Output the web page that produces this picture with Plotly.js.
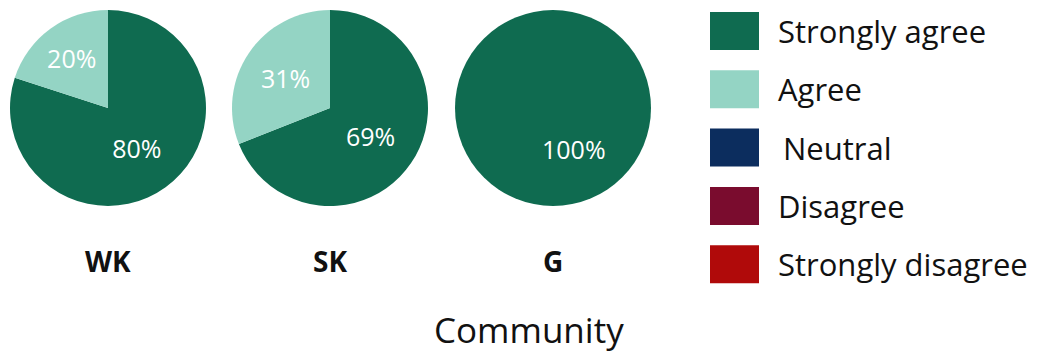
<!DOCTYPE html>
<html><head><meta charset="utf-8">
<script src="https://cdn.plot.ly/plotly-3.0.1.min.js"></script>
<style>html,body{margin:0;padding:0;background:#fff}#chart{width:1055px;height:356px}</style>
</head><body><div id="chart"></div>
<script>
const categories = ["Strongly agree","Agree","Neutral","Disagree","Strongly disagree"];
const colors = ["#0f6b50","#94d4c4","#0c2d5e","#7a0c2e","#b00a0a"];
const communities = ["WK","SK","G"];
const values = {
  WK: [80, 20, 0, 0, 0],
  SK: [69, 31, 0, 0, 0],
  G:  [100, 0, 0, 0, 0]
};
const axisTitle = "Community";

const W = 1055, H = 356;
const pieBoxes = [[10,206],[232,428],[455,651]];
const pieTop = 10, pieBottom = 206;
const FONT = "'Open Sans', 'DejaVu Sans', sans-serif";

const annotations = [];
const data = communities.map((c, i) => {
  const vals = values[c];
  const total = vals.reduce((a, b) => a + b, 0);
  const nonZero = vals.filter(v => v > 0).length;
  const single = nonZero === 1;
  if (single) {
    // a full-circle slice: place its label lower-right, as in the reference
    const cx = (pieBoxes[i][0] + pieBoxes[i][1]) / 2, cy = (pieTop + pieBottom) / 2;
    const k = vals.findIndex(v => v > 0);
    annotations.push({xref:'paper', yref:'paper', x:(cx + 21)/W, y:1-(cy + 41)/H,
      xanchor:'center', yanchor:'middle', showarrow:false,
      text: Math.round(vals[k] / total * 100) + '%',
      font:{color:'#ffffff', size:25, family: FONT}});
  }
  return {
    type: 'pie',
    labels: categories,
    values: vals,
    marker: {colors: colors},
    sort: false,
    direction: 'clockwise',
    rotation: 0,
    textinfo: single ? 'none' : 'percent',
    texttemplate: single ? '' : '%{percent:.0%}',
    textposition: single ? 'none' : 'inside',
    insidetextorientation: 'horizontal',
    textfont: {color: '#ffffff', size: 25, family: FONT},
    hoverinfo: 'label+percent',
    showlegend: false,
    domain: {x: [pieBoxes[i][0]/W, pieBoxes[i][1]/W], y: [1 - pieBottom/H, 1 - pieTop/H]}
  };
});

const shapes = [];
categories.forEach((cat, k) => {
  const y0 = 12 + k*58.3, y1 = y0 + 38;
  shapes.push({type:'rect', xref:'paper', yref:'paper', x0:710/W, x1:759/W, y0:1-y1/H, y1:1-y0/H,
    fillcolor: colors[k], line:{width:0}});
  annotations.push({xref:'paper', yref:'paper', x:(cat === 'Neutral' ? 781 : 776)/W, y:1-(y0+19)/H, xanchor:'left', yanchor:'middle',
    text: cat, showarrow:false, font:{size:31, color:'#111', family: FONT}});
});
communities.forEach((c, i) => {
  annotations.push({xref:'paper', yref:'paper', x:(pieBoxes[i][0]+pieBoxes[i][1])/2/W, y:1-261/H,
    xanchor:'center', yanchor:'middle', text:'<b>'+c+'</b>', showarrow:false,
    font:{size:28, color:'#111', family: FONT}});
});
annotations.push({xref:'paper', yref:'paper', x:529/W, y:1-329/H, xanchor:'center', yanchor:'middle',
  text: axisTitle, showarrow:false, font:{size:35, color:'#111', family: FONT}});

const layout = {
  width: W, height: H,
  margin: {l:0, r:0, t:0, b:0},
  paper_bgcolor: '#fff',
  showlegend: false,
  shapes: shapes,
  annotations: annotations
};
Plotly.newPlot('chart', data, layout, {displayModeBar: false, staticPlot: true});
</script>
</body></html>
